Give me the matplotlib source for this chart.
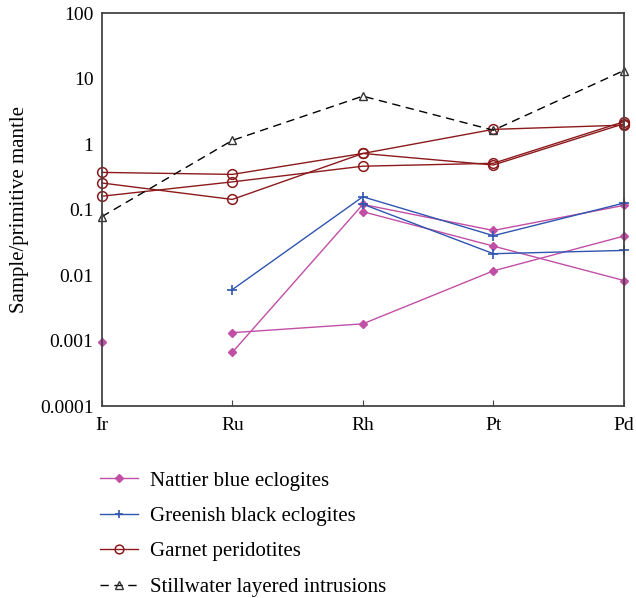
import numpy as np
import matplotlib
matplotlib.use("Agg")
import matplotlib.pyplot as plt

nan = np.nan
elements = ["Ir", "Ru", "Rh", "Pt", "Pd"]

nattier_1 = [0.00094, nan, 0.093, 0.0277, 0.00826]
nattier_2 = [nan, 0.00066, 0.12, 0.048, 0.116]
nattier_3 = [nan, 0.00132, 0.0018, 0.0116, 0.0394]

greenish_1 = [nan, 0.006, 0.157, 0.040, 0.1257]
greenish_2 = [nan, nan, 0.121, 0.0212, 0.0238]

garnet_1 = [0.37, 0.345, 0.72, 1.68, 1.95]
garnet_2 = [0.16, 0.265, 0.46, 0.51, 2.2]
garnet_3 = [0.255, 0.143, 0.72, 0.48, 2.05]

stillwater = [0.078, 1.14, 5.4, 1.63, 13.3]

y_ticks = [0.0001, 0.001, 0.01, 0.1, 1, 10, 100]
y_tick_labels = ["0.0001", "0.001", "0.01", "0.1", "1", "10", "100"]

PINK = "#c14fa6"
BLUE = "#2f55b0"
RED = "#8c1a1c"

plt.rcParams["font.family"] = ["Liberation Serif", "DejaVu Serif"]

fig = plt.figure(figsize=(6.36, 5.98), dpi=100)
ax = fig.add_axes([0.160, 0.321, 0.821, 0.657])
x = np.arange(len(elements))

first = True
for s in [nattier_1, nattier_2, nattier_3]:
    ax.plot(x, s, color=PINK, lw=1.0, marker="D", ms=4.5, mfc=PINK, mec=PINK,
            label="Nattier blue eclogites" if first else None)
    first = False
first = True
for s in [greenish_1, greenish_2]:
    ax.plot(x, s, color=BLUE, lw=1.0, marker="+", ms=7, mew=1.2,
            label="Greenish black eclogites" if first else None)
    first = False
first = True
for s in [garnet_1, garnet_2, garnet_3]:
    ax.plot(x, s, color=RED, lw=1.0, marker="o", ms=7, mfc="none", mec=RED, mew=1.1,
            label="Garnet peridotites" if first else None)
    first = False
ax.plot(x, stillwater, color="black", lw=1.0, ls=(0, (6, 4)), marker="^", ms=6,
        mfc="none", mec="#333333", mew=1.0, label="Stillwater layered intrusions")

ax.set_yscale("log")
ax.set_ylim(0.0001, 100)
ax.set_xlim(0, 4)
ax.set_xticks(x)
ax.set_xticklabels(elements)
ax.set_yticks(y_ticks)
ax.set_yticklabels(y_tick_labels)
ax.yaxis.set_minor_locator(matplotlib.ticker.NullLocator())
ax.tick_params(axis="y", length=0, labelsize=14, pad=6)
ax.tick_params(axis="x", direction="in", length=4, labelsize=14, pad=8, color="#444444")
for sp in ax.spines.values():
    sp.set_color("#444444")
    sp.set_linewidth(1.3)
ax.set_ylabel("Sample/primitive mantle", fontsize=15, labelpad=8)

for line in ax.get_lines():
    line.set_clip_on(False)

ax.legend(loc="upper left", bbox_to_anchor=(100 / 636, 1 - 471 / 598),
          bbox_transform=fig.transFigure, frameon=False, fontsize=15,
          handlelength=1.8, handletextpad=0.62, labelspacing=0.76,
          borderpad=0, borderaxespad=0, markerscale=0.9)

fig.savefig("out.png", dpi=100)
